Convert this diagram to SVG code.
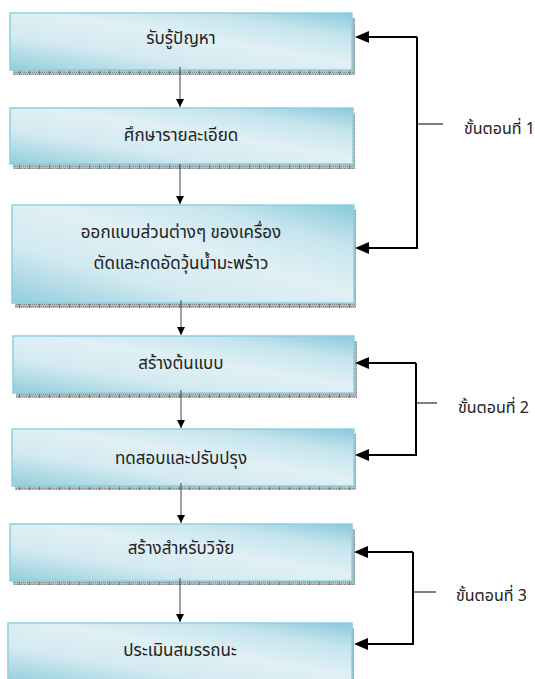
<svg xmlns="http://www.w3.org/2000/svg" width="535" height="679" viewBox="0 0 535 679">
<defs>
<linearGradient id="boxfill2" x1="0" y1="1" x2="1" y2="0">
<stop offset="0" stop-color="#92cddc"/>
<stop offset="0.3" stop-color="#d3eaf1"/>
<stop offset="0.55" stop-color="#e0f0f5"/>
<stop offset="0.78" stop-color="#c6e5ee"/>
<stop offset="1" stop-color="#8ac9da"/>
</linearGradient>
<pattern id="hatch" width="10" height="4" patternUnits="userSpaceOnUse">
<rect width="10" height="4" fill="#b8bebe"/>
<rect x="0" y="0" width="1" height="1" fill="#808888"/>
<rect x="2" y="0" width="1" height="1" fill="#808888"/>
<rect x="4" y="0" width="1" height="1" fill="#808888"/>
<rect x="6" y="0" width="1" height="1" fill="#808888"/>
<rect x="8" y="0" width="1" height="1" fill="#808888"/>
<rect x="1" y="2" width="1" height="1" fill="#808888"/>
<rect x="3" y="2" width="1" height="1" fill="#808888"/>
<rect x="5" y="2" width="1" height="1" fill="#808888"/>
<rect x="7" y="2" width="1" height="1" fill="#808888"/>
<rect x="9" y="0" width="1" height="4" fill="#707878"/>
</pattern>
<marker id="ah" markerWidth="8" markerHeight="8" refX="8" refY="4" orient="auto" markerUnits="userSpaceOnUse">
<path d="M0,0 L8,4 L0,8 Z" fill="#000"/>
</marker>
</defs>
<style>
.shadow{fill:url(#hatch);}
.box{fill:url(#boxfill2);stroke:#8fcfdf;stroke-width:1.5;}
.t{font-family:"Noto Sans Thai","Noto Sans","DejaVu Sans",sans-serif;font-size:17px;fill:#222;text-anchor:middle;}
.lab{font-family:"Noto Sans Thai","Noto Sans","DejaVu Sans",sans-serif;font-size:16px;fill:#222;}
.flow{stroke:#444;stroke-width:1;fill:none;marker-end:url(#ah);}
.brk{stroke:#000;stroke-width:2;fill:none;}
.tick{stroke:#000;stroke-width:1;fill:none;}
</style>

<g id="node1">
<rect class="shadow" x="13" y="18" width="342" height="57"/>
<rect class="box" x="10" y="13" width="342" height="57"/>
<text class="t" x="181" y="44">รับรู้ปัญหา</text>
</g>
<g id="node2">
<rect class="shadow" x="13" y="113" width="342" height="56"/>
<rect class="box" x="10" y="108" width="343" height="56"/>
<text class="t" x="181" y="141">ศึกษารายละเอียด</text>
</g>
<g id="node3">
<rect class="shadow" x="15" y="210" width="341" height="98"/>
<rect class="box" x="12" y="205" width="342" height="98"/>
<text class="t" x="181" y="238">ออกแบบส่วนต่างๆ ของเครื่อง</text>
<text class="t" x="181" y="269">ตัดและกดอัดวุ้นน้ำมะพร้าว</text>
</g>
<g id="node4">
<rect class="shadow" x="16" y="341" width="341" height="57"/>
<rect class="box" x="13" y="336" width="341" height="57"/>
<text class="t" x="181" y="369">สร้างต้นแบบ</text>
</g>
<g id="node5">
<rect class="shadow" x="15" y="434" width="341" height="56"/>
<rect class="box" x="12" y="429" width="342" height="57"/>
<text class="t" x="181" y="464">ทดสอบและปรับปรุง</text>
</g>
<g id="node6">
<rect class="shadow" x="13" y="529" width="342" height="56"/>
<rect class="box" x="10" y="524" width="342" height="57"/>
<text class="t" x="181" y="554">สร้างสำหรับวิจัย</text>
</g>
<g id="node7">
<rect class="shadow" x="11" y="628" width="343" height="60"/>
<rect class="box" x="8" y="623" width="344" height="60"/>
<text class="t" x="180" y="656">ประเมินสมรรถนะ</text>
</g>

<g id="connectors">
<line class="flow" x1="180" y1="67" x2="180" y2="107"/>
<line class="flow" x1="180" y1="164" x2="180" y2="204"/>
<line class="flow" x1="181" y1="300" x2="181" y2="335"/>
<line class="flow" x1="181" y1="390" x2="181" y2="428"/>
<line class="flow" x1="181" y1="483" x2="181" y2="523"/>
<line class="flow" x1="180" y1="578" x2="180" y2="622"/>

<path class="brk" d="M417,37 V248 H362 M417,37 H362"/>
<path d="M355,37 L369,31 L369,43 Z" fill="#000"/>
<path d="M355,248 L369,242 L369,254 Z" fill="#000"/>
<line class="tick" x1="417" y1="124" x2="443" y2="124"/>

<path class="brk" d="M416,363 V455 H362 M416,363 H362"/>
<path d="M355,363 L369,357 L369,369 Z" fill="#000"/>
<path d="M355,455 L369,449 L369,461 Z" fill="#000"/>
<line class="tick" x1="416" y1="403" x2="437" y2="403"/>

<path class="brk" d="M413,552 V644 H361 M413,552 H361"/>
<path d="M354,552 L368,546 L368,558 Z" fill="#000"/>
<path d="M354,644 L368,638 L368,650 Z" fill="#000"/>
<line class="tick" x1="413" y1="592" x2="436" y2="592"/>
</g>

<g id="labels">
<text class="lab" x="464" y="134">ขั้นตอนที่ 1</text>
<text class="lab" x="458" y="413">ขั้นตอนที่ 2</text>
<text class="lab" x="456" y="601">ขั้นตอนที่ 3</text>
</g>
</svg>
